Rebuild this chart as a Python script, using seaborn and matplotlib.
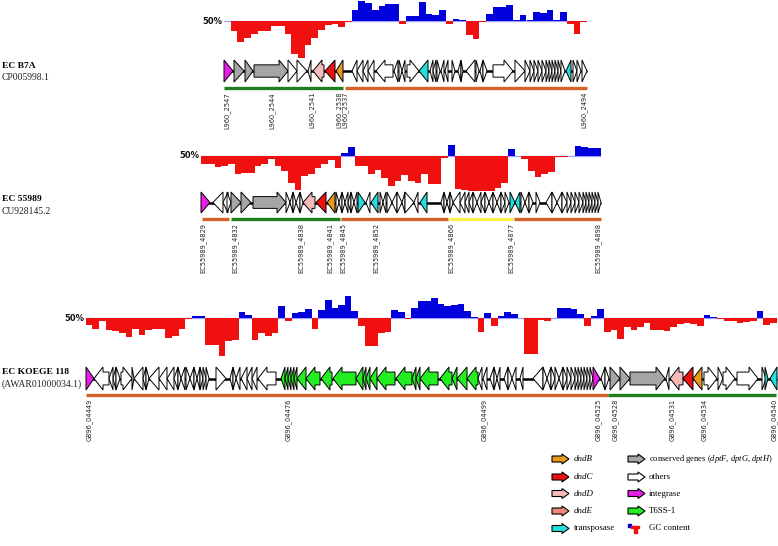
import numpy as np
import pandas as pd
import matplotlib
matplotlib.use('Agg')
import matplotlib.pyplot as plt
from matplotlib.patches import Polygon
import seaborn as sns

W, H = 778, 546

# GC content deviation from 50% per sliding window
gc_b7a = [0, -10, -21, -17, -13, -10, -10, -5, -5, -13, -33, -37, -24, -17, -9, -4, -3, -6,
          -1, 11, 20, 18, 11, 15, 17, 17, -3, 5, 5, 19, 7, 6, 11, -3, 2, 1, -14, -18, -1, 7,
          14, 14, 16, 1, 6, 1, 9, 8, 11, 1, 9, -3, -13, -1]
gc_55989 = [-8, -8, -11, -10, -8, -18, -17, -17, -10, -8, -3, -10, -15, -27, -34, -20, -18,
            -12, -8, -4, -12, 3, 9, -10, -10, -18, -14, -22, -30, -25, -19, -25, -27, -18,
            -28, -28, -2, 11, -33, -34, -35, -35, -35, -35, -32, -27, 7, 0, -3, -15, -21,
            -18, -16, -1, -1, 0, 10, 9, 8, 8]
gc_koege = [-7, -11, -3, -12, -13, -15, -19, -11, -17, -12, -11, -11, -20, -18, -11, -1, 2, 2,
            -27, -27, -38, -23, -22, 6, 3, -22, -15, -18, -15, 12, -3, 5, 6, 9, -11, 8, 18,
            10, 13, 22, 7, -8, -28, -28, -15, -14, 8, 6, -1, 10, 17, 17,
            20, 14, 12, 13, 14, 7, 1, -14, 5, -8, 2, 6, 4, 0, -36, -36, -2, -3, 0, 10, 10,
            9, 4, -8, 2, 9, -14, -12, -21, -9, -12, -9, -5, -12, -12, -13, -9, -6, -5, -6,
            -8, 3, 1, -1, -3, -3, -5, -4, -3, 7, -7, -5]

# genes: (start, end, strand, category)
genes_b7a = [
    (224, 233, 1, 'int'), (234, 244, 1, 'cons'), (245, 253, 1, 'cons'), (254, 288, 1, 'cons'),
    (288, 297, 1, 'oth'), (297, 307, 1, 'oth'), (308, 311, -1, 'oth'), (313, 324, -1, 'dndD'),
    (325, 335, -1, 'dndC'), (336, 343, -1, 'dndB'), (352, 357, -1, 'oth'), (357, 363, -1, 'oth'),
    (363, 368, -1, 'oth'), (368, 374, -1, 'oth'), (376, 393, -1, 'oth'), (394, 398, -1, 'oth'),
    (399, 402, 1, 'oth'), (402, 405, -1, 'oth'), (407, 419, 1, 'oth'), (419, 428, -1, 'trans'),
    (430, 433, -1, 'oth'), (433, 436, -1, 'oth'), (437, 440, 1, 'oth'), (441, 444, -1, 'oth'),
    (445, 448, -1, 'oth'), (452, 455, 1, 'oth'), (458, 461, -1, 'oth'), (461, 463, 1, 'oth'),
    (466, 475, -1, 'oth'), (476, 479, 1, 'oth'), (480, 483, -1, 'oth'), (483, 487, 1, 'oth'),
    (493, 513, 1, 'oth'), (515, 525, 1, 'oth'), (525, 530, 1, 'oth'), (530, 534, 1, 'oth'),
    (534, 538, 1, 'oth'), (538, 542, 1, 'oth'), (542, 546, 1, 'oth'), (546, 549, 1, 'oth'),
    (549, 552, 1, 'oth'), (552, 555, 1, 'oth'), (555, 558, 1, 'oth'), (558, 561, 1, 'oth'),
    (561, 565, 1, 'oth'), (566, 571, -1, 'trans'), (573, 577, 1, 'oth'), (577, 581, 1, 'oth'),
    (582, 587, 1, 'oth'),
]
genes_55989 = [
    (201, 210, 1, 'int'), (213, 223, -1, 'oth'), (223, 228, -1, 'oth'), (227, 231, 1, 'oth'),
    (231, 241, 1, 'cons'), (241, 251, 1, 'cons'), (253, 286, 1, 'cons'),
    (286, 290, 1, 'oth'), (290, 293, -1, 'oth'), (293, 296, 1, 'oth'), (296, 300, -1, 'oth'),
    (300, 303, 1, 'oth'), (303, 315, -1, 'dndD'), (316, 326, -1, 'dndC'), (327, 335, -1, 'dndB'),
    (336, 339, 1, 'oth'), (339, 342, -1, 'oth'), (342, 345, 1, 'oth'), (345, 348, -1, 'oth'),
    (348, 351, -1, 'oth'), (351, 354, 1, 'oth'), (354, 357, -1, 'oth'), (358, 365, 1, 'trans'),
    (366, 370, -1, 'oth'), (371, 378, -1, 'trans'), (380, 383, 1, 'oth'), (383, 386, -1, 'oth'),
    (387, 392, 1, 'oth'), (392, 397, -1, 'oth'), (397, 402, 1, 'oth'), (402, 405, -1, 'oth'),
    (405, 414, 1, 'oth'), (414, 418, -1, 'oth'), (420, 427, -1, 'trans'),
    (441, 444, -1, 'oth'), (444, 447, 1, 'oth'), (447, 450, -1, 'oth'), (450, 453, 1, 'oth'),
    (453, 460, -1, 'oth'), (460, 465, -1, 'oth'), (465, 469, -1, 'oth'), (469, 473, -1, 'oth'),
    (473, 477, 1, 'oth'), (477, 481, -1, 'oth'), (481, 485, -1, 'oth'), (485, 489, 1, 'oth'),
    (489, 493, -1, 'oth'), (493, 497, 1, 'oth'), (497, 501, -1, 'oth'), (501, 505, 1, 'oth'),
    (505, 509, 1, 'oth'), (510, 515, 1, 'trans'), (515, 520, -1, 'trans'),
    (521, 525, 1, 'oth'), (525, 529, -1, 'oth'), (529, 533, 1, 'oth'), (536, 540, 1, 'oth'),
    (546, 552, -1, 'oth'), (552, 557, 1, 'oth'), (557, 562, -1, 'oth'), (562, 567, 1, 'oth'),
    (567, 571, 1, 'oth'), (571, 575, 1, 'oth'), (575, 579, 1, 'oth'), (579, 583, 1, 'oth'),
    (583, 586, 1, 'oth'), (586, 589, 1, 'oth'), (589, 592, 1, 'oth'), (592, 595, 1, 'oth'),
    (595, 598, 1, 'oth'), (598, 601, 1, 'oth'),
]
genes_koege = [
    (86, 94, 1, 'int'), (94, 109, -1, 'oth'), (109, 113, -1, 'oth'), (113, 116, -1, 'oth'),
    (116, 120, 1, 'oth'), (121, 132, 1, 'oth'), (132, 134, 1, 'oth'), (134, 143, -1, 'oth'),
    (143, 146, -1, 'oth'), (146, 149, 1, 'oth'), (149, 159, -1, 'oth'), (159, 167, -1, 'oth'),
    (167, 174, -1, 'oth'), (174, 178, -1, 'oth'), (178, 181, 1, 'oth'), (181, 185, -1, 'oth'),
    (186, 190, 1, 'oth'), (190, 194, -1, 'oth'), (194, 197, 1, 'oth'), (197, 200, -1, 'oth'),
    (200, 203, 1, 'oth'), (203, 206, 1, 'oth'), (206, 209, 1, 'oth'), (216, 226, 1, 'oth'),
    (230, 233, -1, 'oth'), (233, 236, 1, 'oth'), (236, 240, -1, 'oth'), (241, 247, -1, 'oth'),
    (247, 252, -1, 'oth'), (252, 257, -1, 'oth'), (258, 276, -1, 'oth'),
    (281, 285, -1, 'T6'), (285, 288, -1, 'T6'), (288, 291, -1, 'T6'), (291, 294, -1, 'T6'),
    (294, 297, -1, 'T6'), (297, 306, -1, 'T6'), (306, 320, -1, 'T6'), (321, 332, -1, 'T6'),
    (333, 356, -1, 'T6'), (356, 363, -1, 'T6'), (363, 366, -1, 'T6'), (366, 370, -1, 'T6'),
    (370, 377, -1, 'T6'), (377, 395, -1, 'T6'), (396, 412, -1, 'T6'), (412, 416, -1, 'T6'),
    (416, 420, -1, 'T6'), (420, 438, -1, 'T6'), (440, 452, -1, 'T6'), (452, 457, -1, 'T6'),
    (457, 467, -1, 'T6'), (467, 478, -1, 'T6'),
    (478, 482, -1, 'oth'), (483, 487, -1, 'oth'), (490, 494, -1, 'oth'), (494, 497, 1, 'oth'),
    (497, 500, -1, 'oth'), (504, 508, -1, 'oth'), (508, 512, 1, 'oth'), (512, 516, -1, 'oth'),
    (520, 523, -1, 'oth'), (533, 543, -1, 'oth'), (543, 547, 1, 'oth'), (547, 551, -1, 'oth'),
    (551, 555, 1, 'oth'), (555, 559, 1, 'oth'), (559, 563, -1, 'oth'), (563, 567, 1, 'oth'),
    (567, 571, 1, 'oth'), (571, 575, 1, 'oth'), (575, 578, 1, 'oth'), (578, 581, 1, 'oth'),
    (581, 584, 1, 'oth'), (584, 587, 1, 'oth'), (587, 590, 1, 'oth'), (590, 593, 1, 'oth'),
    (593, 600, 1, 'int'), (601, 605, -1, 'oth'), (605, 609, 1, 'oth'),
    (610, 620, 1, 'cons'), (620, 630, 1, 'cons'), (630, 665, 1, 'cons'), (666, 669, -1, 'oth'),
    (670, 683, -1, 'dndD'), (683, 693, -1, 'dndC'), (693, 702, -1, 'dndB'),
    (704, 717, 1, 'oth'), (718, 723, 1, 'oth'), (723, 735, 1, 'oth'), (737, 758, 1, 'oth'),
    (762, 766, 1, 'oth'), (765, 768, 1, 'trans'), (770, 777, -1, 'trans'),
]

# regions under the gene tracks: (start, end, kind)
regions_b7a = [(224, 343, 'dnd'), (345, 587, 'gi')]
regions_55989 = [(202, 229, 'gi'), (231, 340, 'dnd'), (341, 448, 'gi'), (449, 513, 'yel'),
                 (514, 601, 'gi')]
regions_koege = [(86, 608, 'gi'), (608, 776, 'dnd')]

# locus tags and their positions
tags_b7a = ['L960_2547', 'L960_2544', 'L960_2541', 'L960_2538', 'L960_2537', 'L960_2494']
tagx_b7a = [227, 272, 312, 339, 345, 584]
tags_55989 = ['EC55989_4829', 'EC55989_4832', 'EC55989_4838', 'EC55989_4841', 'EC55989_4845',
              'EC55989_4852', 'EC55989_4866', 'EC55989_4877', 'EC55989_4898']
tagx_55989 = [203, 235, 301, 330, 343, 376, 451, 511, 598]
tags_koege = ['G896_04449', 'G896_04476', 'G896_04499', 'G896_04525', 'G896_04528',
              'G896_04531', 'G896_04534', 'G896_04540']
tagx_koege = [89, 288, 484, 598, 615, 672, 704, 774]

gene_colors = {'int': '#e81ee8', 'cons': '#a6a6a6', 'oth': '#ffffff', 'dndB': '#e8991c',
               'dndC': '#ee1111', 'dndD': '#f6baba', 'dndE': '#f2857e', 'trans': '#22e0e0',
               'T6': '#22ee22'}
region_colors = {'dnd': '#1f7f1f', 'gi': '#d4602a', 'yel': '#f6f24a'}

sns.set_theme(style='white')
plt.rcParams['mathtext.fontset'] = 'custom'
plt.rcParams['mathtext.rm'] = 'Liberation Serif'
plt.rcParams['mathtext.it'] = 'Liberation Serif:italic'

fig = plt.figure(figsize=(W / 100, H / 100), dpi=100)
ax = fig.add_axes([0, 0, 1, 1])
ax.set_xlim(0, W)
ax.set_ylim(H, 0)
ax.axis('off')


def gene_shape(s, e, strand, yc, h, head=9, body=0.28, tri=10.5):
    L = e - s
    hh = h / 2
    bh = h * body
    if L <= tri:
        if strand > 0:
            return [(s, yc - hh), (e, yc), (s, yc + hh)]
        return [(e, yc - hh), (s, yc), (e, yc + hh)]
    if strand > 0:
        k = e - head
        return [(s, yc - bh), (k, yc - bh), (k, yc - hh), (e, yc), (k, yc + hh),
                (k, yc + bh), (s, yc + bh)]
    k = s + head
    return [(e, yc - bh), (k, yc - bh), (k, yc - hh), (s, yc), (k, yc + hh),
            (k, yc + bh), (e, yc + bh)]


def gc_track(vals, x0, x1, base, top, bottom):
    gax = fig.add_axes([x0 / W, 1 - bottom / H, (x1 - x0) / W, (bottom - top) / H])
    df = pd.DataFrame({'win': np.arange(len(vals)), 'gc': vals})
    df['side'] = np.where(df['gc'] >= 0, 'hi', 'lo')
    sns.barplot(data=df, x='win', y='gc', hue='side', dodge=False, width=1, saturation=1,
                palette={'hi': '#0000dd', 'lo': '#f01010'}, linewidth=0, legend=False,
                ax=gax)
    gax.axhline(0, color='#a0a0ff', lw=0.9, zorder=0)
    gax.set_xlim(-0.5, len(vals) - 0.5)
    gax.set_ylim(-(bottom - base), base - top)
    gax.axis('off')
    gax.patch.set_alpha(0)
    ax.text(x0 - 1.5, base, '50%', ha='right', va='center', fontsize=6.0,
            fontweight='bold', color='#111111')


def gene_track(genes, regions, tags, tagx, yc, h, yline, ytag, x0, x1):
    ax.plot([x0, x1], [yc, yc], color='black', lw=1.8, zorder=1, solid_capstyle='butt')
    for s, e, strand, cat in genes:
        ax.add_patch(Polygon(gene_shape(s, e, strand, yc, h), closed=True,
                             facecolor=gene_colors[cat], edgecolor='black', lw=0.7, zorder=2))
    for s, e, kind in regions:
        ax.plot([s, e], [yline, yline], color=region_colors[kind], lw=2.4,
                solid_capstyle='butt', zorder=2)
    for t, x in zip(tags, tagx):
        ax.text(x, ytag, t, rotation=90, ha='center', va='top', fontsize=4.8, color='#222222')


def name(txt, acc, y):
    ax.text(2, y, txt, ha='left', va='center', fontsize=6.8, fontweight='bold',
            family='Liberation Serif', color='black')
    ax.text(2, y + 12, acc, ha='left', va='center', fontsize=6.9,
            family='Liberation Serif', color='#222222')


# EC B7A
gc_track(gc_b7a, 224, 587, 21, 0, 60)
gene_track(genes_b7a, regions_b7a, tags_b7a, tagx_b7a, 71, 22, 88, 92, 224, 587)
name('EC B7A', 'CP005998.1', 66)

# EC 55989
gc_track(gc_55989, 201.3, 601.3, 155.5, 140, 195)
gene_track(genes_55989, regions_55989, tags_55989, tagx_55989, 202.5, 21, 219, 223, 201, 601)
name('EC 55989', 'CU928145.2', 199)

# EC KOEGE 118
gc_track(gc_koege, 85.7, 776.7, 318.3, 290, 362)
gene_track(genes_koege, regions_koege, tags_koege, tagx_koege, 378.5, 23, 395, 399, 86, 777)
name('EC KOEGE 118', '(AWAR01000034.1)', 372)

# legend
leg1 = [('dndB', 'dndB'), ('dndC', 'dndC'), ('dndD', 'dndD'), ('dndE', 'dndE'),
        ('trans', 'transposase')]
leg2 = [('cons', r'conserved genes ($\mathit{dptF}$, $\mathit{dptG}$, $\mathit{dptH}$)'),
        ('oth', 'others'), ('int', 'integrase'), ('T6', 'T6SS-1')]
rows = [459, 477, 493.5, 511, 528.5]
for (cat, lab), y in zip(leg1, rows):
    ax.add_patch(Polygon(gene_shape(552, 569, 1, y, 10, head=7, body=0.3), closed=True,
                         facecolor=gene_colors[cat], edgecolor='black', lw=0.8))
    style = 'normal' if cat == 'trans' else 'italic'
    ax.text(574, y, lab, ha='left', va='center', fontsize=6.4, style=style,
            family='Liberation Serif', color='black')
for (cat, lab), y in zip(leg2, rows):
    ax.add_patch(Polygon(gene_shape(628, 645, 1, y, 10, head=7, body=0.3), closed=True,
                         facecolor=gene_colors[cat], edgecolor='black', lw=0.8))
    ax.text(649, y, lab, ha='left', va='center', fontsize=6.4 if cat != 'cons' else 6.1,
            family='Liberation Serif', color='black')
# GC content symbol
y = rows[-1]
ax.add_patch(plt.Rectangle((628, y - 5), 3.5, 3.5, color='#0000dd'))
ax.add_patch(plt.Rectangle((631.5, y - 3), 8, 2.5, color='#f01010'))
ax.add_patch(plt.Rectangle((634, y - 0.5), 3.5, 5, color='#f01010'))
ax.text(649, y, 'GC content', ha='left', va='center', fontsize=6.4,
        family='Liberation Serif', color='black')

fig.savefig('out.png', dpi=100)
